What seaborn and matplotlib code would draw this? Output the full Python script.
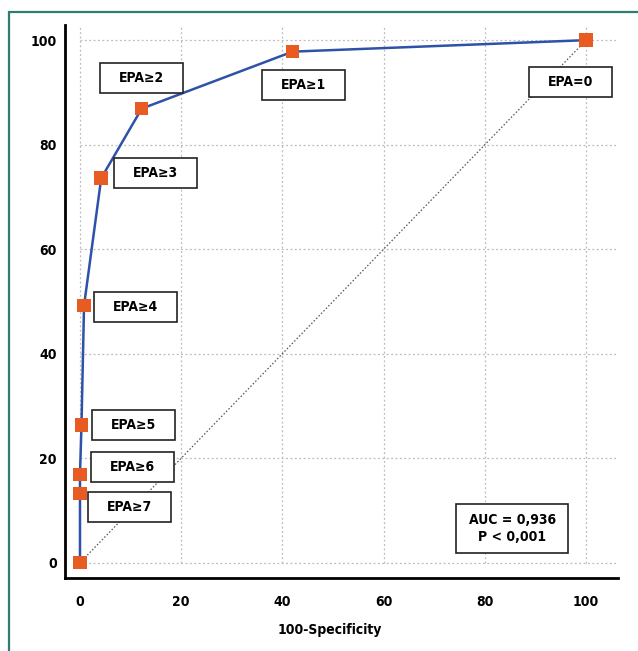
import matplotlib
matplotlib.use("Agg")
import matplotlib.pyplot as plt
from matplotlib.patches import Rectangle
from matplotlib import font_manager as fm
import seaborn as sns
import pandas as pd

# ROC points (100-Specificity, Sensitivity)
fpr = [0.0, 0.0, 0.0, 0.3, 0.8, 4.2, 12.2, 42.0, 100.0]
tpr = [0.0, 13.2, 16.9, 26.4, 49.2, 73.6, 86.9, 97.8, 100.0]
cutoffs = ["EPA≥8", "EPA≥7", "EPA≥6", "EPA≥5", "EPA≥4", "EPA≥3", "EPA≥2", "EPA≥1", "EPA=0"]
label_names = ["EPA≥7", "EPA≥6", "EPA≥5", "EPA≥4", "EPA≥3", "EPA≥2", "EPA≥1", "EPA=0"]
auc_text = "AUC = 0,936\nP < 0,001"
x_ticks = [0, 20, 40, 60, 80, 100]
y_ticks = [0, 20, 40, 60, 80, 100]
x_label = "100-Specificity"

df = pd.DataFrame({"fpr": fpr, "tpr": tpr, "cut": cutoffs})

sns.set_style("white")

# choose a condensed font if one exists
names = {f.name for f in fm.fontManager.ttflist}
cond_dejavu = any(f.name == "DejaVu Sans" and f.stretch in ("condensed", "semi-condensed")
                  for f in fm.fontManager.ttflist)
STRETCH = "normal"
SIZE = 10.5
if "Liberation Sans Narrow" in names:
    FONT = ["Liberation Sans Narrow", "DejaVu Sans"]
elif "DejaVu Sans Condensed" in names:
    FONT = ["DejaVu Sans Condensed", "DejaVu Sans"]
    SIZE = 10
elif cond_dejavu:
    FONT = ["DejaVu Sans", "Liberation Sans"]
    STRETCH = "condensed"
    SIZE = 10
elif "Roboto Condensed" in names:
    FONT = ["Roboto Condensed", "DejaVu Sans"]
else:
    FONT = ["Liberation Sans", "DejaVu Sans"]
    SIZE = 9.5
plt.rcParams["font.family"] = FONT
plt.rcParams["font.stretch"] = STRETCH
plt.rcParams["text.color"] = "black"
plt.rcParams["xtick.color"] = "black"
plt.rcParams["ytick.color"] = "black"
plt.rcParams["axes.labelcolor"] = "black"

fig = plt.figure(figsize=(6.38, 6.51), dpi=100)
ax = fig.add_axes([65/638, 73/651, 553/638, 553/651])

# outer teal frame
fig.patches.append(Rectangle((9/638, -0.01), 1.0, (651-12)/651 + 0.01, transform=fig.transFigure,
                             fill=False, edgecolor="#2E7D6E", linewidth=1.6))

BLUE = "#2D52A8"
ORANGE = "#E85C24"

# diagonal reference line
ax.plot([0, 100], [0, 100], linestyle=(0, (1.2, 1.6)), color="#555555", linewidth=0.9, zorder=2)

sns.lineplot(data=df, x="fpr", y="tpr", sort=False, estimator=None, color=BLUE,
             linewidth=1.8, ax=ax, zorder=3)
sns.scatterplot(data=df, x="fpr", y="tpr", marker="s", s=95, color=ORANGE, edgecolor="none",
                ax=ax, zorder=4)

ax.set_xlim(-2.96, 106.3)
ax.set_ylim(-2.93, 102.9)

# grid
for v in x_ticks:
    ax.plot([v, v], [0, 102.9], linestyle=(0, (1.5, 2.0)), color="#BBBBBB", linewidth=0.9, zorder=1)
for v in y_ticks:
    ax.plot([0, 106.3], [v, v], linestyle=(0, (1.5, 2.0)), color="#BBBBBB", linewidth=0.9, zorder=1)

# spines & ticks
for s in ["top", "right"]:
    ax.spines[s].set_visible(False)
for s in ["left", "bottom"]:
    ax.spines[s].set_linewidth(2.0)
    ax.spines[s].set_color("black")

ax.set_xticks(x_ticks)
ax.set_yticks(y_ticks)
ax.set_xticks(range(0, 101, 5), minor=True)
ax.set_yticks(range(0, 101, 5), minor=True)
ax.tick_params(which="major", direction="in", length=9, width=2.0, color="black",
               labelsize=SIZE, pad=6, labelcolor="black")
ax.tick_params(which="minor", direction="in", length=5, width=1.5, color="black")
ax.tick_params(axis="x", which="major", pad=12)
for lab in ax.get_xticklabels() + ax.get_yticklabels():
    lab.set_fontweight("bold")
    lab.set_family(FONT)
    lab.set_stretch(STRETCH)

ax.set_xlabel(x_label, fontsize=SIZE, fontweight="bold", family=FONT, fontstretch=STRETCH,
              color="black")
ax.set_ylabel("")
ax.xaxis.set_label_coords(0.479, -0.094)
ax.xaxis.label.set_verticalalignment("center")

# label boxes (centers in data units)
px_x = 5.06
px_y = 5.227
box_centers = [(9.8, 10.7), (10.4, 18.4), (10.6, 26.4), (11.0, 48.9),
               (15.0, 74.5), (12.1, 92.7), (44.2, 91.4), (97.0, 92.0)]
bw, bh = 83 / px_x, 30 / px_y
for name, (cx, cy) in zip(label_names, box_centers):
    ax.add_patch(Rectangle((cx - bw/2, cy - bh/2), bw, bh, facecolor="white",
                           edgecolor="#222222", linewidth=1.2, zorder=5))
    ax.text(cx, cy, name, ha="center", va="center", fontsize=SIZE, fontweight="bold",
            family=FONT, fontstretch=STRETCH, color="black", zorder=6)

# AUC box
acx, acy = 85.4, 6.6
aw, ah = 112 / px_x, 49 / px_y
ax.add_patch(Rectangle((acx - aw/2, acy - ah/2), aw, ah, facecolor="white",
                       edgecolor="#222222", linewidth=1.2, zorder=5))
ax.text(acx, acy, auc_text, ha="center", va="center", fontsize=SIZE, fontweight="bold",
        family=FONT, fontstretch=STRETCH, color="black", linespacing=1.3, zorder=6)

fig.savefig("out.png", dpi=100)
